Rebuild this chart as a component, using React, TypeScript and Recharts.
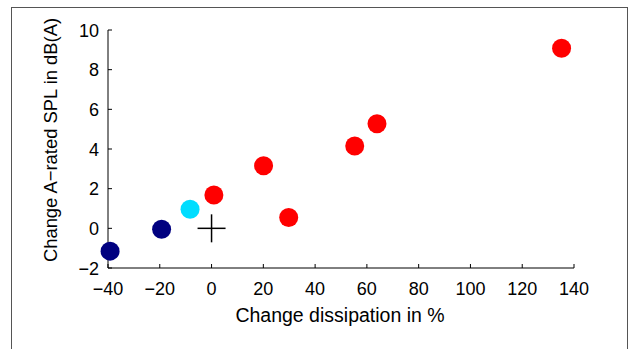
import { ScatterChart, Scatter, XAxis, YAxis } from "recharts";

const xTicks = [-40, -20, 0, 20, 40, 60, 80, 100, 120, 140];
const yTicks = [-2, 0, 2, 4, 6, 8, 10];

const navyX = [-39.2, -19.3];
const navyY = [-1.15, -0.05];
const cyanX = [-8.3];
const cyanY = [0.96];
const redX = [0.9, 20.1, 29.8, 55.3, 63.9, 135.2];
const redY = [1.68, 3.16, 0.55, 4.15, 5.27, 9.08];
const refX = [0];
const refY = [0];

const toPts = (xs: number[], ys: number[]) => xs.map((x, i) => ({ x, y: ys[i] }));

const FONT = "'Liberation Sans', Arial, Helvetica, sans-serif";
const fmt = (v: number) => (v < 0 ? "\u2212" + Math.abs(v) : String(v));

const XTick = (props: any) => {
  const { x, y, payload } = props;
  return (
    <g>
      <line x1={x} x2={x} y1={y} y2={y - 4} stroke="#000" strokeWidth={1} />
      <text x={x} y={y + 27} textAnchor="middle" fontSize={18} fontFamily={FONT} fill="#000">
        {fmt(payload.value)}
      </text>
    </g>
  );
};

const YTick = (props: any) => {
  const { x, y, payload } = props;
  return (
    <g>
      <line x1={x} x2={x + 4} y1={y} y2={y} stroke="#000" strokeWidth={1} />
      <text x={x - 9} y={y + 6.5} textAnchor="end" fontSize={18} fontFamily={FONT} fill="#000">
        {fmt(payload.value)}
      </text>
    </g>
  );
};

const dot = (color: string) => (props: any) => (
  <circle cx={props.cx} cy={props.cy} r={9.5} fill={color} />
);

const cross = (props: any) => (
  <g stroke="#000" strokeWidth={1.5}>
    <line x1={props.cx - 14} x2={props.cx + 14} y1={props.cy} y2={props.cy} />
    <line x1={props.cx} x2={props.cx} y1={props.cy - 14} y2={props.cy + 14} />
  </g>
);

export default function App() {
  return (
    <div style={{ position: "absolute", left: 0, top: 0, width: 629, height: 349, background: "#fff" }}>
      <div
        style={{
          position: "absolute",
          left: 11,
          top: 7,
          width: 617,
          height: 345,
          border: "1.5px solid #555",
          boxSizing: "border-box",
        }}
      />
      <ScatterChart
        width={629}
        height={349}
        margin={{ top: 30, right: 55, left: 48, bottom: 51 }}
        style={{ position: "absolute", left: 0, top: 0 }}
      >
        <XAxis
          type="number"
          dataKey="x"
          domain={[-40, 140]}
          ticks={xTicks}
          interval={0}
          height={30}
          tickSize={0}
          tickMargin={0}
          tickLine={false}
          tick={<XTick />}
          axisLine={{ stroke: "#000", strokeWidth: 1 }}
        />
        <YAxis
          type="number"
          dataKey="y"
          domain={[-2, 10]}
          ticks={yTicks}
          interval={0}
          width={60}
          tickSize={0}
          tickMargin={0}
          tickLine={false}
          tick={<YTick />}
          axisLine={{ stroke: "#000", strokeWidth: 1 }}
        />
        <Scatter data={toPts(navyX, navyY)} shape={dot("#000080")} isAnimationActive={false} />
        <Scatter data={toPts(cyanX, cyanY)} shape={dot("#00DDFF")} isAnimationActive={false} />
        <Scatter data={toPts(redX, redY)} shape={dot("#FF0000")} isAnimationActive={false} />
        <Scatter data={toPts(refX, refY)} shape={cross} isAnimationActive={false} />
        <text x={340} y={322} textAnchor="middle" fontSize={19.5} fontFamily={FONT} fill="#000">
          Change dissipation in %
        </text>
        <text
          x={57}
          y={140}
          textAnchor="middle"
          fontSize={18.4}
          fontFamily={FONT}
          fill="#000"
          transform="rotate(-90 57 140)"
        >
          Change A{"\u2212"}rated SPL in dB(A)
        </text>
      </ScatterChart>
    </div>
  );
}
